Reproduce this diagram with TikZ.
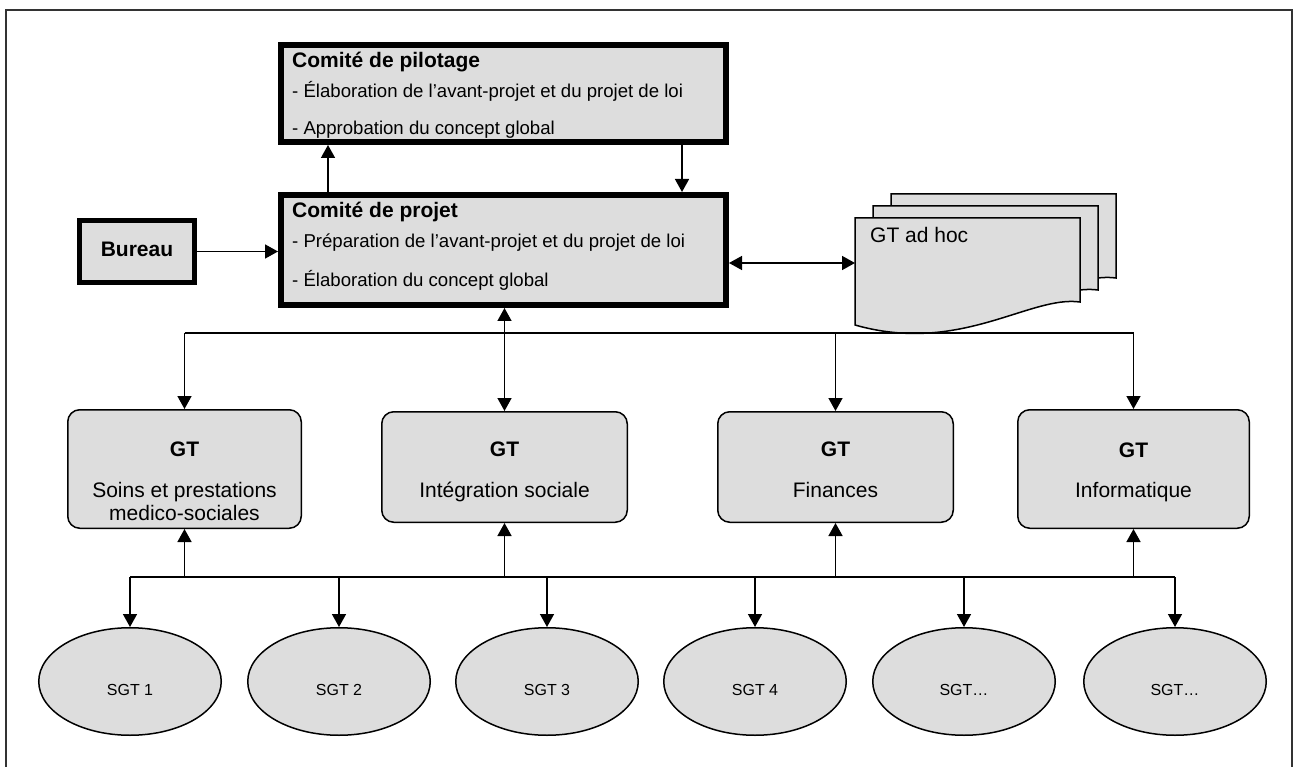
\documentclass[tikz,border=0pt]{standalone}
\usepackage{fontspec}
\setmainfont{Liberation Sans}
\usetikzlibrary{arrows.meta,shapes.geometric}
\definecolor{boxfill}{HTML}{DDDDDD}
\definecolor{framecol}{HTML}{333333}
\begin{document}
\begin{tikzpicture}[x=1pt,y=-1pt,
  thickbox/.style={draw, fill=boxfill, line width=6pt, minimum width=445pt, minimum height=#1, inner sep=0pt},
  burbox/.style={draw, fill=boxfill, line width=5pt, minimum width=115pt, minimum height=62pt, inner sep=0pt},
  gtbox/.style={draw, fill=boxfill, line width=1.5pt, rounded corners=12pt, inner sep=0pt},
  sgt/.style={draw, fill=boxfill, ellipse, line width=1.5pt, minimum width=182.5pt, minimum height=107.5pt, inner sep=0pt},
  docst/.style={draw, fill=boxfill, line width=1.5pt, line join=miter},
  conn/.style={line width=1.5pt},
  arr/.style={-{Triangle[length=13pt,width=14pt]}, line width=1.5pt},
  darr/.style={{Triangle[length=13pt,width=14pt]}-{Triangle[length=13pt,width=14pt]}, line width=1.5pt},
  ttl/.style={font=\fontsize{21}{25}\selectfont\bfseries, anchor=base west, inner sep=0pt},
  bdy/.style={font=\fontsize{18.6}{22}\selectfont, anchor=base west, inner sep=0pt},
  gtb/.style={font=\fontsize{21}{25}\selectfont\bfseries, anchor=base, inner sep=0pt},
  gtt/.style={font=\fontsize{21}{25}\selectfont, anchor=base, inner sep=0pt},
  sgtt/.style={font=\fontsize{16}{19}\selectfont, anchor=base, inner sep=0pt}]
\useasboundingbox (0,0) rectangle (1293,767);
% frame
\draw[line width=1.5pt, framecol] (6,767) -- (6,10) -- (1292,10) -- (1292,767);

% committee boxes
\node[thickbox=97pt] (pil) at (503.5,93.5) {};
\node[ttl] (pilt) at (292,68) {Comité de pilotage};
\node[bdy] (pil1) at (292,98) {- Élaboration de l’avant-projet et du projet de loi};
\node[bdy] (pil2) at (292,135) {- Approbation du concept global};

\node[thickbox=110pt] (proj) at (503.5,250) {};
\node[ttl] (projt) at (292,218) {Comité de projet};
\node[bdy] (proj1) at (292,248) {- Préparation de l’avant-projet et du projet de loi};
\node[bdy] (proj2) at (292,287) {- Élaboration du concept global};

\node[burbox] (bur) at (137,251.5) {};
\node[ttl, anchor=base] (burt) at (137,257) {Bureau};

% GT ad hoc stack
\newcommand\docpath{(855,218) -- (1080,218) -- (1080,302) .. controls (1030,295) and (960,355) .. (855,325) -- cycle}
\draw[docst, shift={(36,-24)}] \docpath;
\draw[docst, shift={(18,-12)}] \docpath;
\draw[docst] \docpath;
\node[minimum width=225pt, minimum height=107pt, inner sep=0pt, outer sep=0pt] (adhoc) at (967.5,271.5) {};
\node[font=\fontsize{21}{25}\selectfont, anchor=base west, inner sep=0pt] (adhoct) at (870,243) {GT ad hoc};

% GT boxes
\node[gtbox, minimum width=233.5pt, minimum height=118.5pt] (soins) at (184.5,469) {};
\node[gtbox, minimum width=245.5pt, minimum height=110.5pt] (integ) at (504.5,467) {};
\node[gtbox, minimum width=235.5pt, minimum height=110.5pt] (fin) at (835.5,467) {};
\node[gtbox, minimum width=231.5pt, minimum height=118.5pt] (info) at (1133.5,469) {};
\node[gtb] (soinsg) at (184.5,456) {GT};
\node[gtt] (soins1) at (184.5,497) {Soins et prestations};
\node[gtt] (soins2) at (184.5,520) {medico-sociales};
\node[gtb] (integg) at (504.5,456) {GT};
\node[gtt] (integ1) at (504.5,497) {Intégration sociale};
\node[gtb] (fing) at (835.5,456) {GT};
\node[gtt] (fin1) at (835.5,497) {Finances};
\node[gtb] (infog) at (1133.5,457) {GT};
\node[gtt] (info1) at (1133.5,497) {Informatique};

% SGT ellipses
\foreach \i/\x/\t in {1/130/SGT 1, 2/339/SGT 2, 3/547/SGT 3, 4/755/SGT 4, 5/964/SGT…, 6/1175/SGT…}{
  \node[sgt] (e\i) at (\x,681.5) {};
  \node[sgtt] (e\i t) at (\x,695.5) {\t};
}

% connectors
\coordinate (c1) at (328,0);
\coordinate (c2) at (682,0);
\coordinate (y263) at (0,263);
\coordinate (ub) at (0,333);
\coordinate (lb) at (0,577);
\draw[arr] (proj.north -| c1) -- (pil.south -| c1);
\draw[arr] (pil.south -| c2) -- (proj.north -| c2);
\draw[arr] (bur.east) -- (bur.east -| proj.west);
\draw[darr] (proj.east |- y263) -- (adhoc.west |- y263);

\draw[conn] (soins.north |- ub) -- (info.north |- ub);
\draw[darr] (integ.north |- proj.south) -- (integ.north);
\draw[arr] (soins.north |- ub) -- (soins.north);
\draw[arr] (fin.north |- ub) -- (fin.north);
\draw[arr] (info.north |- ub) -- (info.north);

\draw[conn] (e1.north |- lb) -- (e6.north |- lb);
\foreach \n in {soins,integ,fin,info}{
  \draw[arr] (\n.south |- lb) -- (\n.south);
}
\foreach \i in {1,...,6}{
  \draw[arr] (e\i.north |- lb) -- (e\i.north);
}
\end{tikzpicture}
\end{document}
